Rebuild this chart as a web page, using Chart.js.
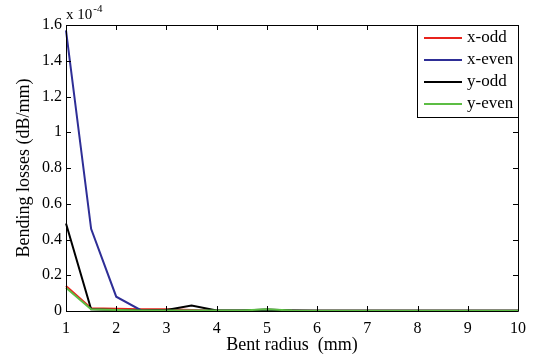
<!DOCTYPE html>
<html>
<head>
<meta charset="utf-8">
<script src="https://cdn.jsdelivr.net/npm/chart.js@4.4.0/dist/chart.umd.min.js"></script>
<style>
  html, body { margin: 0; padding: 0; background: #fff; }
  #chart { display: block; }
</style>
</head>
<body>
<canvas id="chart" width="535" height="360"></canvas>
<script>
// bent radius (mm)
const radius = [1, 1.5, 2, 2.5, 3, 3.5, 4, 4.5, 5, 5.5, 6, 6.5, 7, 7.5, 8, 8.5, 9, 9.5, 10];
// bending losses, in units of 1e-4 dB/mm
const xOdd  = [0.14, 0.015, 0.012, 0.01, 0.01, 0.005, 0.002, 0.002, 0.004, 0.002, 0.001, 0.001, 0.001, 0.001, 0.001, 0.001, 0.001, 0.001, 0.001];
const xEven = [1.57, 0.46, 0.08, 0.003, 0.002, 0.002, 0.002, 0.002, 0.002, 0.002, 0.001, 0.001, 0.001, 0.001, 0.001, 0.001, 0.001, 0.001, 0.001];
const yOdd  = [0.49, 0.01, 0.005, 0.003, 0.005, 0.03, 0.003, 0.003, 0.008, 0.003, 0.001, 0.001, 0.001, 0.001, 0.001, 0.001, 0.001, 0.001, 0.001];
const yEven = [0.13, 0.01, 0.005, 0.003, 0.003, 0.003, 0.003, 0.003, 0.01, 0.003, 0.002, 0.002, 0.002, 0.002, 0.002, 0.002, 0.002, 0.002, 0.002];
const xTicks = [1, 2, 3, 4, 5, 6, 7, 8, 9, 10];
const yTicks = [0, 0.2, 0.4, 0.6, 0.8, 1, 1.2, 1.4, 1.6];

const FONT = 'Liberation Serif';

function pts(values) {
    return radius.map((r, i) => ({ x: r, y: values[i] }));
}

function makeSet(label, values, color, order) {
    return {
        label: label,
        data: pts(values),
        borderColor: color,
        backgroundColor: color,
        borderWidth: 2,
        pointRadius: 0,
        tension: 0,
        fill: false,
        clip: 3,
        order: order
    };
}

// MATLAB-style frame with inward ticks, exponent label and boxed legend
const matlabFrame = {
    id: 'matlabFrame',
    afterDraw(chart) {
        const ctx = chart.ctx;
        const a = chart.chartArea;
        const xs = chart.scales.x;
        const ys = chart.scales.y;
        ctx.save();
        ctx.strokeStyle = '#000';
        ctx.lineWidth = 1;
        ctx.beginPath();
        ctx.rect(Math.round(a.left) + 0.5, Math.round(a.top) + 0.5, Math.round(a.right - a.left), Math.round(a.bottom - a.top));
        ctx.stroke();

        const len = 5;
        ctx.beginPath();
        xTicks.forEach(v => {
            const px = Math.round(xs.getPixelForValue(v)) + 0.5;
            ctx.moveTo(px, a.bottom); ctx.lineTo(px, a.bottom - len);
            ctx.moveTo(px, a.top); ctx.lineTo(px, a.top + len);
        });
        yTicks.forEach(v => {
            const py = Math.round(ys.getPixelForValue(v)) + 0.5;
            ctx.moveTo(a.left, py); ctx.lineTo(a.left + len, py);
            ctx.moveTo(a.right, py); ctx.lineTo(a.right - len, py);
        });
        ctx.stroke();

        // exponent
        ctx.fillStyle = '#000';
        ctx.textBaseline = 'alphabetic';
        ctx.textAlign = 'left';
        ctx.font = '15px "' + FONT + '"';
        ctx.fillText('x 10', a.left, a.top - 6);
        const w = ctx.measureText('x 10').width;
        ctx.font = '11px "' + FONT + '"';
        ctx.fillText('-4', a.left + w + 1, a.top - 13);

        // legend box
        const boxL = 417, boxT = 25, boxW = 101, boxH = 92;
        ctx.fillStyle = '#fff';
        ctx.fillRect(boxL, boxT, boxW, boxH);
        ctx.strokeStyle = '#000';
        ctx.lineWidth = 1;
        ctx.strokeRect(boxL + 0.5, boxT + 0.5, boxW, boxH);
        ctx.font = '17px "' + FONT + '"';
        ctx.textBaseline = 'middle';
        chart.data.datasets.forEach((ds, i) => {
            const y = boxT + 13 + i * 22;
            ctx.strokeStyle = ds.borderColor;
            ctx.lineWidth = 2;
            ctx.beginPath();
            ctx.moveTo(boxL + 7, y);
            ctx.lineTo(boxL + 45, y);
            ctx.stroke();
            ctx.fillStyle = '#000';
            ctx.fillText(ds.label, boxL + 50, y);
        });
        ctx.restore();
    }
};

new Chart(document.getElementById('chart'), {
    type: 'line',
    data: {
        datasets: [
            makeSet('x-odd', xOdd, '#e8231c', 3),
            makeSet('x-even', xEven, '#2e2e96', 2),
            makeSet('y-odd', yOdd, '#000000', 1),
            makeSet('y-even', yEven, '#5cbd44', 0)
        ]
    },
    options: {
        responsive: false,
        animation: false,
        devicePixelRatio: 1,
        layout: { padding: { left: 13, top: 25, right: 17, bottom: 0 } },
        plugins: {
            legend: { display: false },
            tooltip: { enabled: false }
        },
        scales: {
            x: {
                type: 'linear',
                min: 1,
                max: 10,
                afterFit(scale) { scale.height = 49; },
                afterBuildTicks(scale) { scale.ticks = xTicks.map(v => ({ value: v })); },
                grid: { display: false },
                border: { display: false },
                ticks: {
                    color: '#000',
                    font: { family: FONT, size: 16 },
                    padding: 0,
                    maxRotation: 0,
                    callback: v => String(v)
                },
                title: {
                    display: true,
                    text: 'Bent radius  (mm)',
                    color: '#000',
                    font: { family: FONT, size: 18 },
                    padding: { top: 0, bottom: 4 }
                }
            },
            y: {
                type: 'linear',
                min: 0,
                max: 1.6,
                afterFit(scale) { scale.width = 53; },
                afterBuildTicks(scale) { scale.ticks = yTicks.map(v => ({ value: v })); },
                grid: { display: false, drawTicks: false },
                border: { display: false },
                ticks: {
                    color: '#000',
                    font: { family: FONT, size: 16 },
                    padding: 4,
                    callback: v => String(Math.round(v * 10) / 10)
                },
                title: {
                    display: true,
                    text: 'Bending losses (dB/mm)',
                    color: '#000',
                    font: { family: FONT, size: 18 },
                    padding: { top: 0, bottom: 0 }
                }
            }
        }
    },
    plugins: [matlabFrame]
});
</script>
</body>
</html>
